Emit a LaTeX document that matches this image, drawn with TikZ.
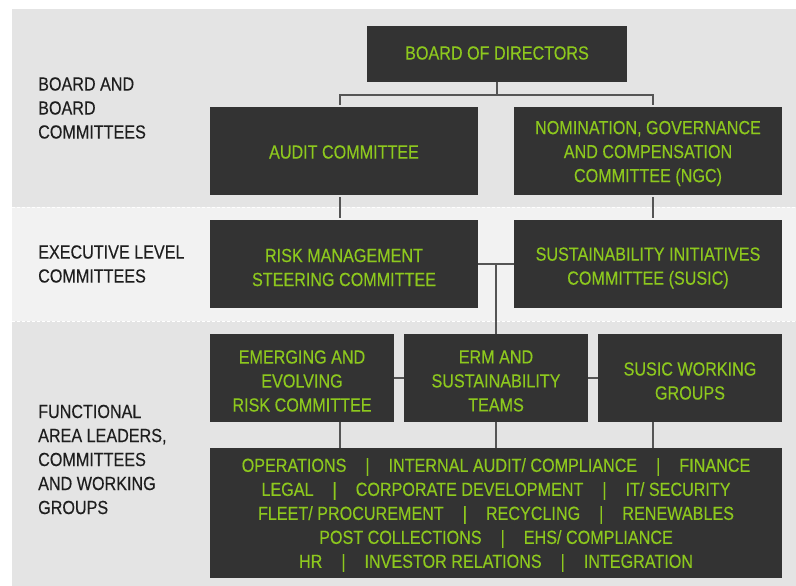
\documentclass[tikz,border=0pt]{standalone}
\usepackage{fontspec}
\setmainfont{Liberation Sans}[FakeStretch=0.85,FakeBold=0.3]
\usetikzlibrary{calc}
\definecolor{bandA}{HTML}{E4E4E4}
\definecolor{bandB}{HTML}{F2F2F2}
\definecolor{boxfill}{HTML}{333333}
\definecolor{lime}{HTML}{8DC81E}
\definecolor{connc}{HTML}{555555}
\definecolor{labelc}{HTML}{1E1E1E}
\newcommand\sepbar{\hspace{19pt}|\hspace{19pt}}

\begin{document}
\begin{tikzpicture}[x=1pt,y=-1pt,
  orgbox/.style={fill=boxfill, inner sep=0pt},
  boxtext/.style={text=lime, align=center, inner sep=0pt,
    font=\fontsize{19}{24}\selectfont},
  tierlabel/.style={anchor=west, align=left, text=labelc, inner sep=0pt,
    font=\fontsize{19}{24}\selectfont},
  conn/.style={draw=connc, line width=1.4pt},
  divider/.style={draw=white, line width=1pt, dash pattern=on 3pt off 2pt}]
\useasboundingbox (0,0) rectangle (796,586);
\fill[white] (0,0) rectangle (796,586);

% tier bands
\fill[bandA] (12,9) rectangle (796,207);
\fill[bandB] (12,207) rectangle (796,321);
\fill[bandA] (12,321) rectangle (796,586);
\draw[divider] (12,207) -- (796,207);
\draw[divider] (12,321) -- (796,321);

% tier labels
\node[tierlabel] (tierboard) at (38,108) {BOARD AND\\BOARD\\COMMITTEES};
\node[tierlabel] (tierexec) at (38,264) {EXECUTIVE LEVEL\\COMMITTEES};
\node[tierlabel] (tierfunc) at (38,459.5) {FUNCTIONAL\\AREA LEADERS,\\COMMITTEES\\AND WORKING\\GROUPS};

% board level
\node[orgbox, minimum width=260pt, minimum height=56pt] (bod) at (497,54) {};
\node[orgbox, minimum width=268pt, minimum height=88pt] (audit) at (344,151) {};
\node[orgbox, minimum width=268pt, minimum height=88pt] (ngc) at (648,151) {};
\node[boxtext] (bodtxt) at ($(bod.center)+(0,-1)$) {BOARD OF DIRECTORS};
\node[boxtext] (audittxt) at ($(audit.center)+(0,1)$) {AUDIT COMMITTEE};
\node[boxtext] (ngctxt) at ($(ngc.center)+(0,2.5)$)
  {NOMINATION, GOVERNANCE\\AND COMPENSATION\\COMMITTEE (NGC)};

% executive level
\node[orgbox, minimum width=268pt, minimum height=88pt] (risk) at (344,264) {};
\node[orgbox, minimum width=268pt, minimum height=88pt] (susic) at (648,264) {};
\node[boxtext] (risktxt) at ($(risk.center)+(0,3.5)$) {RISK MANAGEMENT\\STEERING COMMITTEE};
\node[boxtext] (susictxt) at ($(susic.center)+(0,4)$)
  {SUSTAINABILITY INITIATIVES\\COMMITTEE (SUSIC)};

% functional level
\node[orgbox, minimum width=184pt, minimum height=88pt] (emerging) at (302,378) {};
\node[orgbox, minimum width=184pt, minimum height=88pt] (erm) at (496,378) {};
\node[orgbox, minimum width=184pt, minimum height=88pt] (wg) at (690,378) {};
\node[orgbox, minimum width=572pt, minimum height=130pt] (areas) at (496,513) {};
\node[boxtext] (emergingtxt) at ($(emerging.center)+(0,3)$) {EMERGING AND\\EVOLVING\\RISK COMMITTEE};
\node[boxtext] (ermtxt) at ($(erm.center)+(0,3)$) {ERM AND\\SUSTAINABILITY\\TEAMS};
\node[boxtext] (wgtxt) at ($(wg.center)+(0,3)$) {SUSIC WORKING\\GROUPS};
\node[boxtext] (areastxt) at ($(areas.center)+(0,2)$)
  {OPERATIONS\sepbar INTERNAL AUDIT/ COMPLIANCE\sepbar FINANCE\\
   LEGAL\sepbar CORPORATE DEVELOPMENT\sepbar IT/ SECURITY\\
   FLEET/ PROCUREMENT\sepbar RECYCLING\sepbar RENEWABLES\\
   POST COLLECTIONS\sepbar EHS/ COMPLIANCE\\
   HR\sepbar INVESTOR RELATIONS\sepbar INTEGRATION};

% connector columns
\coordinate (colL) at (340,0);
\coordinate (colR) at (653,0);

% connectors
\draw[conn] (bod.south) -- ++(0,13) coordinate (bodj);
\draw[conn] ($(audit.north -| colL)+(0,-2)$) |- (bodj) -| ($(ngc.north -| colR)+(0,-2)$);
\draw[conn] ($(audit.south -| colL)+(0,2)$) -- ($(risk.north -| colL)+(0,-2)$);
\draw[conn] ($(ngc.south -| colR)+(0,2)$) -- ($(susic.north -| colR)+(0,-2)$);
\draw[conn] (risk.east) -- (susic.west);
\draw[conn] (erm.north) -- (erm.north |- risk.east);
\draw[conn] (emerging.east) -- (erm.west);
\draw[conn] (erm.east) -- (wg.west);
\draw[conn] (emerging.south -| colL) -- (areas.north -| colL);
\draw[conn] (erm.south) -- (erm.south |- areas.north);
\draw[conn] (wg.south -| colR) -- (areas.north -| colR);
\end{tikzpicture}
\end{document}
